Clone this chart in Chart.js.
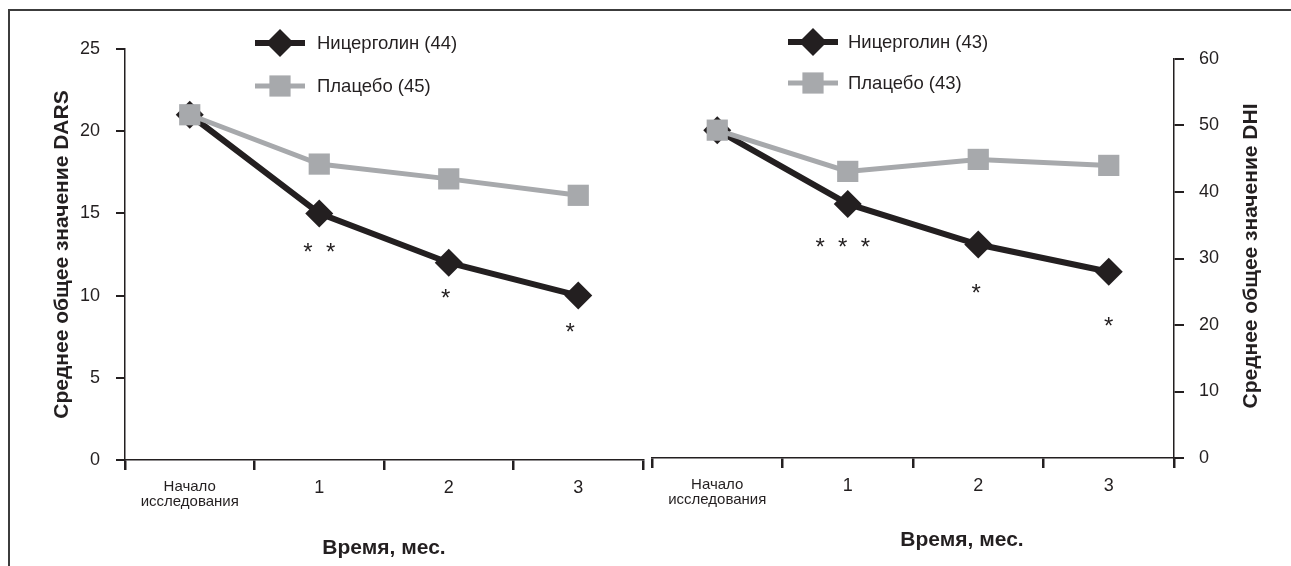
<!DOCTYPE html>
<html>
<head>
<meta charset="utf-8">
<script src="https://cdn.jsdelivr.net/npm/chart.js@4.4.1/dist/chart.umd.min.js"></script>
<style>
  body { margin: 0; background: #fff; width: 1291px; height: 566px; overflow: hidden; position: relative; }
  #frame { position: absolute; left: 8px; top: 9px; width: 1290px; height: 600px; border-top: 2px solid #3c3c3c; border-left: 2px solid #3c3c3c; }
  #dars { position: absolute; left: 0; top: 0; }
  #dhi { position: absolute; left: 648px; top: 0; }
</style>
</head>
<body>
<div id="frame"></div>
<canvas id="dars" width="648" height="566"></canvas>
<canvas id="dhi" width="643" height="566"></canvas>
<script>
const months = [["Начало", "исследования"], "1", "2", "3"];

const darsNicergoline = [21, 15, 12, 10];
const darsPlacebo = [21, 18, 17.1, 16.1];
const darsStars = ["", "*  *", "*", "*"];
const darsStarLevel = [null, 13, 10.2, 8.15];

const dhiNicergoline = [49.3, 38.2, 32.1, 28];
const dhiPlacebo = [49.3, 43.1, 44.9, 44];
const dhiStars = ["", "*  *  *", "*", "*"];
const dhiStarLevel = [null, 32.6, 25.7, 20.8];

const ink = "#231f20";
const grey = "#a7a9ac";
const family = '"Liberation Sans", Arial, sans-serif';

Chart.defaults.font.family = family;
Chart.defaults.color = ink;

// line + marker legend, like the original figure
const legendLines = {
  id: "legendLines",
  afterDraw(chart, args, opts) {
    const ctx = chart.ctx;
    chart.data.datasets.forEach((ds, i) => {
      const y = opts.y[i];
      ctx.save();
      ctx.strokeStyle = ds.borderColor;
      ctx.lineWidth = ds.borderWidth;
      ctx.beginPath();
      ctx.moveTo(opts.x, y);
      ctx.lineTo(opts.x + opts.len, y);
      ctx.stroke();
      ctx.fillStyle = ds.pointBackgroundColor;
      Chart.helpers.drawPoint(ctx, { pointStyle: ds.pointStyle, radius: ds.pointRadius, borderWidth: 0, rotation: 0 }, opts.x + opts.len / 2, y);
      ctx.font = "18.5px " + family;
      ctx.fillStyle = ink;
      ctx.textAlign = "left";
      ctx.textBaseline = "middle";
      ctx.fillText(ds.label, opts.textX, y + 1);
      ctx.restore();
    });
  }
};

// significance asterisks under the nicergoline points
const stars = {
  id: "stars",
  afterDatasetsDraw(chart, args, opts) {
    const ctx = chart.ctx;
    const xs = chart.scales.x, ys = chart.scales.y;
    ctx.save();
    ctx.font = "24px " + family;
    ctx.fillStyle = ink;
    ctx.textAlign = "center";
    ctx.textBaseline = "alphabetic";
    opts.text.forEach((t, i) => {
      if (!t) return;
      const x = xs.getPixelForValue(i) + (opts.shift[i] || 0);
      const y = ys.getPixelForValue(opts.level[i]) + 14;
      ctx.fillText(t, x, y);
    });
    ctx.restore();
  }
};

// titles that chart.js can't place the way the figure does
const freeTitles = {
  id: "freeTitles",
  afterDraw(chart, args, opts) {
    const ctx = chart.ctx;
    (opts.items || []).forEach(t => {
      ctx.save();
      ctx.translate(t.x, t.y);
      ctx.rotate(t.angle || 0);
      ctx.font = "bold 21px " + family;
      ctx.fillStyle = ink;
      ctx.textAlign = "center";
      ctx.textBaseline = "middle";
      ctx.fillText(t.text, 0, 0);
      ctx.restore();
    });
  }
};

function makeDatasets(nic, pla, nicLabel, plaLabel) {
  return [
    {
      label: nicLabel, data: nic, order: 1,
      borderColor: ink, borderWidth: 6, pointStyle: "rectRot", pointRadius: 14,
      pointBackgroundColor: ink, pointBorderWidth: 0
    },
    {
      label: plaLabel, data: pla, order: 0,
      borderColor: grey, borderWidth: 5, pointStyle: "rect", pointRadius: 15,
      pointBackgroundColor: grey, pointBorderWidth: 0
    }
  ];
}

function xScale(height, titleOpt) {
  return {
    offset: true,
    grid: { drawOnChartArea: false, offset: true, tickLength: 10, lineWidth: 2.5, color: ink },
    border: { color: ink, width: 1.5 },
    ticks: {
      color: ink, padding: 9, maxRotation: 0, autoSkip: false,
      font: c => c.index === 0 ? { size: 15, lineHeight: 1.0 } : { size: 18, lineHeight: 1.05 }
    },
    title: titleOpt,
    afterFit: s => { s.height = height; }
  };
}

new Chart(document.getElementById("dars"), {
  type: "line",
  data: { labels: months, datasets: makeDatasets(darsNicergoline, darsPlacebo, "Ницерголин (44)", "Плацебо (45)") },
  plugins: [legendLines, stars],
  options: {
    responsive: false,
    animation: false,
    layout: { autoPadding: false, padding: { left: 0, top: 49, right: 5, bottom: 0 } },
    scales: {
      x: xScale(106, {
        display: true, text: "Время, мес.", color: ink,
        font: { size: 21, weight: "bold" }, padding: { top: 0, bottom: 5 }
      }),
      y: {
        min: 0, max: 25,
        ticks: { stepSize: 5, color: ink, padding: 16, font: { size: 18 } },
        grid: { drawOnChartArea: false, tickLength: 9, lineWidth: 2, color: ink },
        border: { color: ink, width: 1.5 },
        title: {
          display: true, text: "Среднее общее значение DARS", color: ink,
          font: { size: 21, weight: "bold" }, padding: { top: 50, bottom: 0 }
        },
        afterFit: s => { s.width = 125; }
      }
    },
    plugins: {
      legend: { display: false },
      tooltip: { enabled: false },
      legendLines: { x: 255, len: 50, textX: 317, y: [43, 86] },
      stars: { text: darsStars, level: darsStarLevel, shift: [0, 0, -3, -8] }
    }
  }
});

new Chart(document.getElementById("dhi"), {
  type: "line",
  data: { labels: months, datasets: makeDatasets(dhiNicergoline, dhiPlacebo, "Ницерголин (43)", "Плацебо (43)") },
  plugins: [legendLines, stars, freeTitles],
  options: {
    responsive: false,
    animation: false,
    layout: { autoPadding: false, padding: { left: 4, top: 59, right: 0, bottom: 0 } },
    scales: {
      x: xScale(108, { display: false }),
      y: {
        position: "right",
        min: 0, max: 60,
        ticks: { stepSize: 10, color: ink, padding: 15, font: { size: 18 } },
        grid: { drawOnChartArea: false, tickLength: 10, lineWidth: 2, color: ink },
        border: { color: ink, width: 1.5 },
        afterFit: s => { s.width = 117; }
      }
    },
    plugins: {
      legend: { display: false },
      tooltip: { enabled: false },
      legendLines: { x: 140, len: 50, textX: 200, y: [42, 83] },
      stars: { text: dhiStars, level: dhiStarLevel, shift: [0, -5, -2, 0] },
      freeTitles: {
        items: [
          { text: "Среднее общее значение DHI", x: 603, y: 256, angle: -Math.PI / 2 },
          { text: "Время, мес.", x: 314, y: 540 }
        ]
      }
    }
  }
});
</script>
</body>
</html>
